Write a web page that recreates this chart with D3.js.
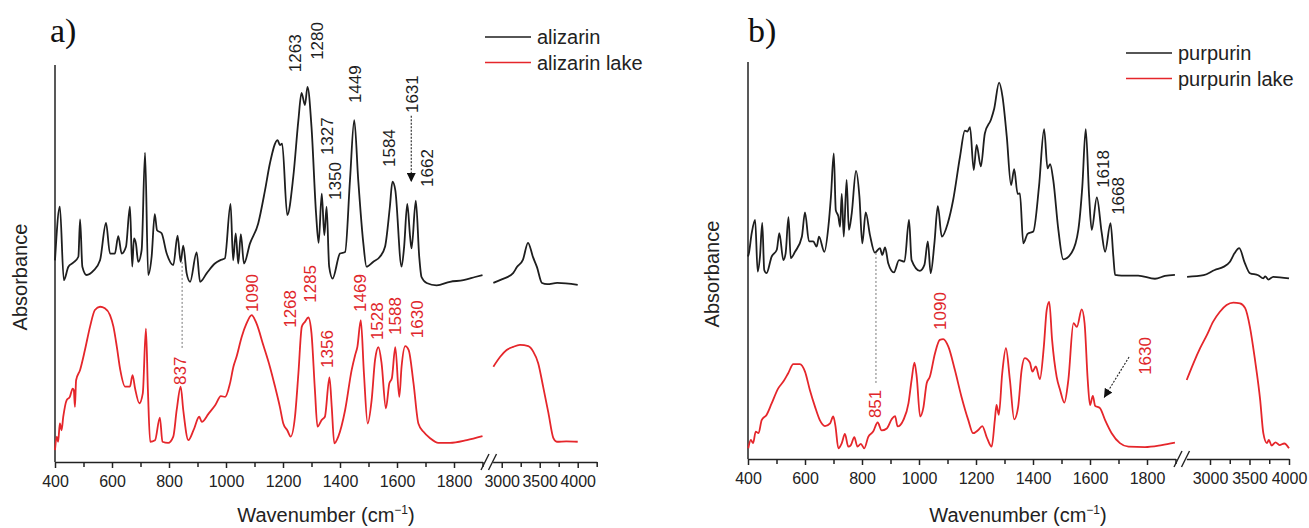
<!DOCTYPE html>
<html lang="en">
<head>
<meta charset="utf-8">
<style>
body { margin: 0; background: #fff; }
svg text { font-family: "Liberation Sans", Arial, sans-serif; }
.axis path, .axis line { stroke: #222; stroke-width: 1.5; fill: none; }
.axis text { font-size: 16px; fill: #222; font-family: "Liberation Sans", Arial, sans-serif; }
.spec { fill: none; stroke-width: 1.8; stroke-linejoin: round; }
</style>
</head>
<body>
<script src="https://d3js.org/d3.v7.min.js"></script>
<svg id="chart" width="1309" height="528"></svg>
<script>
// spectra: [wavenumber cm-1, absorbance (a.u., offset)]
var alizarin = [[400,50.8],[417,64.3],[431,45.8],[447,49.2],[464,50.2],[482,51.7],[488,61.1],[496,49.2],[511,47.1],[535,48.2],[558,50.8],[579,60.2],[593,52.5],[610,52.5],[622,56.9],[634,52.5],[649,54.2],[663,64.3],[671,49.2],[677,56.3],[684,55.0],[692,50.4],[704,53.4],[716,77.9],[727,47.1],[739,51.7],[750,62.4],[758,58.4],[774,57.6],[792,52.5],[815,49.6],[830,57.0],[841,50.4],[850,54.5],[862,47.5],[874,45.4],[897,52.8],[909,45.4],[932,47.5],[961,50.0],[979,50.8],[996,51.3],[1016,65.0],[1025,50.8],[1034,57.6],[1043,50.0],[1052,57.4],[1063,50.0],[1084,55.0],[1113,60.1],[1137,68.5],[1154,75.2],[1181,81.1],[1189,79.8],[1197,80.2],[1215,62.2],[1236,71.8],[1254,86.1],[1265,93.0],[1277,89.9],[1286,94.5],[1300,84.4],[1316,62.6],[1325,55.2],[1336,67.6],[1345,57.1],[1353,64.3],[1362,49.2],[1374,46.2],[1400,52.5],[1418,52.9],[1435,71.0],[1450,86.1],[1464,71.0],[1482,55.0],[1493,49.2],[1516,50.4],[1540,51.7],[1558,54.2],[1575,64.3],[1584,70.6],[1594,68.5],[1616,49.2],[1625,54.2],[1636,65.0],[1646,56.7],[1651,53.8],[1666,65.8],[1678,51.7],[1686,46.6],[1704,45.1],[1739,44.5],[1786,45.4],[1833,45.8],[1874,46.6],[1900,47.1]];
var alizarinHigh = [[2890,45.1],[3000,46.0],[3150,47.6],[3200,49.1],[3280,51.0],[3346,55.2],[3412,51.6],[3464,49.1],[3530,45.1],[3600,44.8],[3730,45.1],[4000,44.6]];

var alizarinLake = [[400,3.0],[406,6.4],[411,5.1],[417,9.7],[423,8.0],[429,11.4],[441,15.6],[452,16.4],[462,18.5],[466,18.1],[470,13.9],[474,20.6],[488,23.2],[505,28.2],[523,34.1],[540,38.3],[558,39.1],[575,38.7],[593,37.0],[605,34.1],[617,29.0],[629,23.2],[646,19.0],[663,19.0],[672,21.9],[681,18.5],[696,14.8],[708,17.3],[719,33.6],[726,18.1],[734,5.1],[751,5.5],[768,11.2],[777,5.1],[797,4.8],[815,6.4],[827,13.1],[841,19.0],[850,13.1],[868,5.5],[886,8.0],[906,11.4],[915,10.1],[939,12.2],[962,14.3],[982,16.6],[997,16.4],[1014,19.8],[1026,24.0],[1037,26.5],[1055,31.5],[1072,34.9],[1090,37.0],[1107,34.9],[1131,29.4],[1154,24.0],[1172,19.0],[1189,13.9],[1201,9.7],[1215,8.0],[1227,6.4],[1242,11.4],[1254,22.3],[1266,34.1],[1277,35.3],[1289,36.4],[1300,32.4],[1312,18.1],[1321,8.9],[1336,10.6],[1347,11.4],[1363,21.3],[1371,13.9],[1380,4.7],[1394,6.4],[1418,13.1],[1441,23.2],[1453,26.9],[1461,29.0],[1473,35.7],[1484,22.3],[1497,9.7],[1511,15.6],[1523,25.7],[1535,28.9],[1546,24.8],[1561,13.5],[1573,19.8],[1582,21.1],[1594,28.9],[1608,16.4],[1616,24.0],[1629,29.2],[1641,28.2],[1658,19.8],[1675,9.7],[1693,7.6],[1716,6.0],[1745,4.8],[1786,4.8],[1845,5.5],[1900,6.5]];
var alizarinLakeHigh = [[2890,24.0],[2980,26.5],[3065,28.2],[3150,29.0],[3240,29.5],[3350,29.2],[3415,27.8],[3480,24.9],[3545,19.0],[3615,12.3],[3680,6.0],[3725,5.1],[3850,5.2],[4000,5.1]];

var purpurin = [[400,51.0],[403,51.8],[413,56.9],[425,60.2],[434,47.2],[442,51.0],[450,59.5],[457,47.6],[465,46.8],[483,51.0],[501,52.7],[510,56.9],[524,50.1],[532,51.8],[542,60.9],[550,50.6],[565,52.2],[589,56.0],[600,62.1],[614,54.8],[629,54.8],[641,53.5],[649,56.0],[668,52.2],[682,58.5],[691,66.1],[701,77.0],[708,62.7],[717,61.1],[723,58.5],[729,66.8],[736,56.0],[746,70.3],[754,57.7],[764,61.9],[779,72.6],[791,66.1],[801,54.3],[813,62.1],[828,56.4],[845,52.0],[863,53.1],[871,51.4],[881,53.3],[892,49.3],[912,47.0],[930,50.1],[949,49.7],[965,60.2],[974,50.1],[1003,47.4],[1019,48.9],[1031,54.8],[1041,46.8],[1054,54.3],[1066,63.7],[1080,56.0],[1101,59.4],[1120,65.3],[1144,76.2],[1161,82.7],[1170,82.5],[1179,83.6],[1192,72.8],[1202,79.1],[1217,73.7],[1231,82.0],[1253,85.6],[1264,88.3],[1281,94.8],[1293,91.3],[1308,81.2],[1323,69.0],[1334,73.0],[1346,66.8],[1354,66.9],[1366,54.3],[1381,56.7],[1401,57.3],[1421,68.6],[1439,83.1],[1451,73.2],[1460,74.3],[1471,70.3],[1489,57.7],[1506,50.3],[1536,52.0],[1559,57.7],[1573,68.6],[1585,83.1],[1597,66.1],[1606,57.7],[1624,65.9],[1641,57.0],[1653,52.2],[1672,59.4],[1682,51.0],[1688,46.4],[1711,46.2],[1769,46.2],[1828,45.4],[1863,46.1],[1898,46.4]];
var purpurinHigh = [[2710,45.9],[2920,46.3],[3060,47.6],[3170,48.4],[3250,49.6],[3310,51.8],[3370,53.1],[3440,49.4],[3505,46.8],[3610,46.3],[3675,45.5],[3700,46.0],[3740,45.2],[3800,45.9],[4000,45.5]];

var purpurinLake = [[401,2.7],[410,4.8],[418,4.0],[427,6.9],[437,6.5],[448,9.8],[465,11.1],[483,14.0],[506,17.8],[524,19.5],[541,21.6],[559,23.9],[582,23.9],[600,22.0],[617,17.4],[635,13.2],[652,9.8],[670,8.3],[688,9.0],[699,10.7],[707,8.2],[717,2.7],[729,4.0],[740,6.3],[752,3.1],[761,3.5],[773,5.5],[784,3.1],[796,3.8],[808,2.7],[822,5.6],[839,6.9],[855,9.2],[869,7.2],[887,7.7],[904,10.0],[916,10.8],[925,8.2],[945,9.8],[963,14.0],[974,19.9],[984,24.3],[992,20.7],[1004,10.7],[1015,12.8],[1027,19.1],[1038,20.7],[1056,26.6],[1073,30.0],[1085,30.2],[1103,28.3],[1126,22.4],[1149,15.7],[1173,9.8],[1190,6.5],[1208,7.3],[1222,8.3],[1237,5.6],[1255,3.1],[1266,9.8],[1272,13.6],[1280,11.1],[1292,21.6],[1305,27.9],[1319,19.9],[1334,10.0],[1348,13.2],[1360,22.4],[1371,25.4],[1389,24.3],[1398,22.0],[1410,23.3],[1424,20.1],[1438,28.3],[1448,37.5],[1457,39.6],[1467,30.0],[1483,20.7],[1495,17.4],[1510,14.2],[1524,19.9],[1542,34.2],[1554,33.3],[1571,37.7],[1581,34.2],[1592,19.9],[1600,13.6],[1610,15.9],[1618,13.4],[1635,12.8],[1653,9.8],[1676,6.5],[1705,4.0],[1735,3.1],[1793,3.0],[1852,3.5],[1898,4.1]];
var purpurinLakeHigh = [[2705,19.9],[2790,24.1],[2875,27.9],[2960,31.2],[3040,34.6],[3125,37.1],[3210,38.8],[3295,39.4],[3380,39.2],[3445,38.0],[3505,33.3],[3570,24.9],[3635,14.9],[3675,6.5],[3720,4.0],[3745,4.8],[3780,3.4],[3830,4.2],[3880,3.5],[3940,3.9],[4000,2.7]];

// tick values
var lowMajor = [400, 600, 800, 1000, 1200, 1400, 1600, 1800];
var lowMinor = [500, 700, 900, 1100, 1300, 1500, 1700, 1900];
var highMajor = [3000, 3500, 4000];
var highMinorA = [3250, 3750, 4250];
var highMinorB = [3250, 3750];

// peak labels: [wavenumber, absorbance at label foot, text]
var alizarinPeaks = [[1242,98.2,"1263"],[1319,101.3,"1280"],[1354,77.3,"1327"],[1382,66.0,"1350"],[1453,90.4,"1449"],[1572,74.3,"1584"],[1653,87.9,"1631"],[1705,69.3,"1662"]];
var alizarinLakePeaks = [[839,19.4,"837"],[1091,37.8,"1090"],[1225,33.8,"1268"],[1295,40.1,"1285"],[1354,23.7,"1356"],[1470,37.8,"1469"],[1530,30.7,"1528"],[1593,32.0,"1588"],[1670,31.2,"1630"]];
var purpurinPeaks = [[1646,68.3,"1618"],[1698,61.5,"1668"]];
var purpurinLakePeaks = [[846,10.3,"851"],[1074,32.5,"1090"],[1793,21.2,"1630"]];

var BLACK = "#1e1e1e", RED = "#e5262b";

var svg = d3.select("#chart");

svg.append("defs").append("marker")
    .attr("id", "arrow")
    .attr("viewBox", "0 0 10 10")
    .attr("refX", 10).attr("refY", 5)
    .attr("markerWidth", 9).attr("markerHeight", 9)
    .attr("markerUnits", "userSpaceOnUse")
    .attr("orient", "auto")
  .append("path")
    .attr("d", "M0,0L10,5L0,10z")
    .attr("fill", "#111");

var panels = [
  {
    label: "a)", labelX: 50,
    left: 55, lowRight: 482.5, hiDomain: [2880, 4250], hiRange: [492.6, 596.7],
    top: 65, bottom: 462, hiMinor: highMinorA,
    black: alizarin, blackHigh: alizarinHigh, red: alizarinLake, redHigh: alizarinLakeHigh,
    blackPeaks: alizarinPeaks, redPeaks: alizarinLakePeaks,
    names: ["alizarin", "alizarin lake"], legendX: 485, legendY: 37,
    yTitleX: 20, yTitleY: 277, xTitleX: 326,
    guide: [846, 50.4, 28.7],
    arrow: [1650, 87.2, 1650, 70.5]
  },
  {
    label: "b)", labelX: 748,
    left: 748, lowRight: 1175.5, hiDomain: [2700, 4000], hiRange: [1186.3, 1289],
    top: 62, bottom: 459, hiMinor: highMinorB,
    black: purpurin, blackHigh: purpurinHigh, red: purpurinLake, redHigh: purpurinLakeHigh,
    blackPeaks: purpurinPeaks, redPeaks: purpurinLakePeaks,
    names: ["purpurin", "purpurin lake"], legendX: 1126, legendY: 53,
    yTitleX: 712, yTitleY: 274, xTitleX: 1018,
    guide: [849, 51.9, 19.1],
    arrow: [1737, 25.7, 1649, 15.4]
  }
];

panels.forEach(drawPanel);

function drawPanel(p) {
  var g = svg.append("g");
  var xLow = d3.scaleLinear().domain([400, 1900]).range([p.left, p.lowRight]);
  var xHigh = d3.scaleLinear().domain(p.hiDomain).range(p.hiRange);
  var y = d3.scaleLinear().domain([0, 100]).range([p.bottom, p.top]);
  var fmt = d3.format("d");

  // axes
  g.append("g").attr("class", "axis")
      .attr("transform", "translate(0," + p.bottom + ")")
      .call(d3.axisBottom(xLow).tickValues(lowMajor).tickFormat(fmt).tickSize(6).tickSizeOuter(0).tickPadding(8));
  g.append("g").attr("class", "axis")
      .attr("transform", "translate(0," + p.bottom + ")")
      .call(d3.axisBottom(xLow).tickValues(lowMinor).tickSize(5).tickFormat(""))
      .select(".domain").remove();
  g.append("g").attr("class", "axis")
      .attr("transform", "translate(0," + p.bottom + ")")
      .call(d3.axisBottom(xHigh).tickValues(highMajor).tickFormat(fmt).tickSize(6).tickSizeOuter(0).tickPadding(8));
  g.append("g").attr("class", "axis")
      .attr("transform", "translate(0," + p.bottom + ")")
      .call(d3.axisBottom(xHigh).tickValues(p.hiMinor).tickSize(5).tickFormat(""))
      .select(".domain").remove();

  // axis break
  var gap0 = xLow.range()[1];
  [gap0 + 2.5, gap0 + 10].forEach(function(cx) {
    g.append("line")
        .attr("x1", cx - 4).attr("y1", p.bottom + 8)
        .attr("x2", cx + 4).attr("y2", p.bottom - 8)
        .attr("stroke", "#222").attr("stroke-width", 1.4);
  });

  // y axis
  g.append("line")
      .attr("x1", p.left).attr("x2", p.left)
      .attr("y1", y(0)).attr("y2", y(100))
      .attr("stroke", "#222").attr("stroke-width", 1.5);

  // titles
  g.append("text")
      .attr("transform", "translate(" + p.yTitleX + "," + p.yTitleY + ") rotate(-90)")
      .attr("text-anchor", "middle").attr("dy", "0.35em")
      .style("font-size", "20px").attr("fill", "#222")
      .text("Absorbance");
  var xt = g.append("text")
      .attr("x", p.xTitleX).attr("y", 522)
      .attr("text-anchor", "middle")
      .style("font-size", "20px").attr("fill", "#222");
  xt.append("tspan").text("Wavenumber (cm");
  xt.append("tspan").attr("dy", -8).style("font-size", "12px").text("\u22121");
  xt.append("tspan").attr("dy", 8).text(")");

  g.append("text")
      .attr("x", p.labelX).attr("y", 42)
      .style("font-family", "'Liberation Serif', 'Times New Roman', serif")
      .style("font-size", "34px").attr("fill", "#111")
      .text(p.label);

  // spectra
  var line = function(sx) {
    return d3.line().x(function(d) { return sx(d[0]); })
        .y(function(d) { return y(d[1]); })
        .curve(d3.curveMonotoneX);
  };
  g.append("path").attr("class", "spec").attr("stroke", BLACK).attr("d", line(xLow)(p.black));
  g.append("path").attr("class", "spec").attr("stroke", BLACK).attr("d", line(xHigh)(p.blackHigh));
  g.append("path").attr("class", "spec").attr("stroke", RED).attr("d", line(xLow)(p.red));
  g.append("path").attr("class", "spec").attr("stroke", RED).attr("d", line(xHigh)(p.redHigh));

  // guide line between spectra
  g.append("line")
      .attr("x1", xLow(p.guide[0])).attr("x2", xLow(p.guide[0]))
      .attr("y1", y(p.guide[1])).attr("y2", y(p.guide[2]))
      .attr("stroke", "#777").attr("stroke-width", 1).attr("stroke-dasharray", "2,2");

  // arrow
  g.append("line")
      .attr("x1", xLow(p.arrow[0])).attr("y1", y(p.arrow[1]))
      .attr("x2", xLow(p.arrow[2])).attr("y2", y(p.arrow[3]))
      .attr("stroke", "#222").attr("stroke-width", 1.1).attr("stroke-dasharray", "2,1.5")
      .attr("marker-end", "url(#arrow)");

  // peak labels
  function peaks(list, color) {
    g.selectAll(null).data(list).enter().append("text")
        .attr("transform", function(d) { return "translate(" + xLow(d[0]) + "," + y(d[1]) + ") rotate(-90)"; })
        .attr("dy", "0.35em")
        .style("font-size", "17px").attr("fill", color)
        .text(function(d) { return d[2]; });
  }
  peaks(p.blackPeaks, "#1e1e1e");
  peaks(p.redPeaks, "#e0262b");

  // legend
  p.names.forEach(function(n, i) {
    var ly = p.legendY + i * 25.5;
    g.append("line")
        .attr("x1", p.legendX).attr("x2", p.legendX + 46)
        .attr("y1", ly).attr("y2", ly)
        .attr("stroke", i ? RED : BLACK).attr("stroke-width", 1.6);
    g.append("text")
        .attr("x", p.legendX + 52).attr("y", ly).attr("dy", "0.35em")
        .style("font-size", "20px").attr("fill", "#222")
        .text(n);
  });
}
</script>
</body>
</html>
